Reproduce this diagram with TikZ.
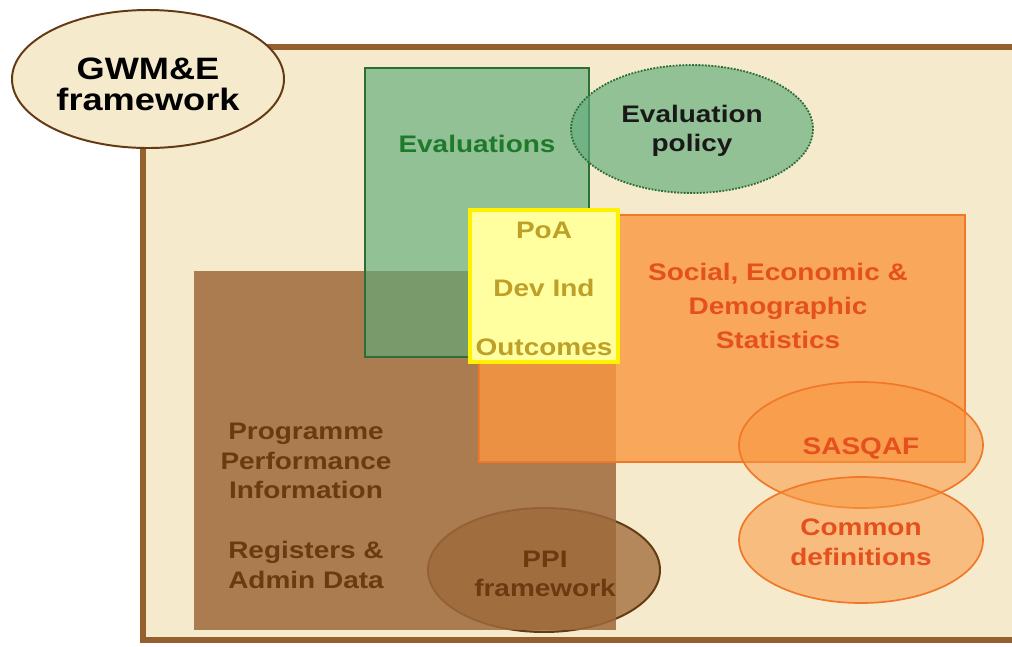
\documentclass[tikz,border=0pt]{standalone}
\usepackage{fontspec}
\setmainfont{Liberation Sans}[FakeStretch=1.17]
\usepackage{tikz}
\usetikzlibrary{calc}
\definecolor{mybeige}{RGB}{245, 234, 203}
\definecolor{myframe}{RGB}{148, 96, 46}
\definecolor{mygreen}{RGB}{95, 172, 123}
\definecolor{mydkgreen}{RGB}{45, 110, 55}
\definecolor{mytxgreen}{RGB}{30, 122, 42}
\definecolor{myorange}{RGB}{250, 151, 64}
\definecolor{myorline}{RGB}{240, 120, 40}
\definecolor{mytxorange}{RGB}{228, 80, 30}
\definecolor{mybrown}{RGB}{157, 105, 59}
\definecolor{myppi}{RGB}{181, 136, 91}
\definecolor{mydkbrown}{RGB}{100, 58, 20}
\definecolor{mytxbrown}{RGB}{107, 58, 16}
\definecolor{myyellow}{RGB}{255, 255, 160}
\definecolor{mytxgold}{RGB}{190, 160, 40}
\tikzset{lbl/.style = {font = \bfseries\fontsize{17}{21}\selectfont, align = center}}

\begin{document}
\begin{tikzpicture}[x = 0.025cm, y = -0.025cm]
\clip (0,0) rectangle (1012,646);
\draw[fill = mybeige, draw = myframe, line width = 4.2pt] (143,47) rectangle (1040,640);
\draw[fill = myppi, draw = mydkbrown, line width = 1.4pt] (544,570) ellipse [x radius = 116, y radius = 62];
\fill[mybrown, fill opacity = 0.85] (194,271) rectangle (616,630);
\draw[fill = mygreen, fill opacity = 0.65, draw = mydkgreen, line width = 0.8pt] (365,68) rectangle (589,357);
\draw[fill = mygreen, fill opacity = 0.65, draw = mydkgreen, densely dotted, line width = 1.3pt] (692,129) ellipse [x radius = 121, y radius = 64];
\draw[fill = myorange, fill opacity = 0.8, draw = myorline, line width = 1.2pt] (479,215) rectangle (965,462);
\draw[fill = myyellow, draw = yellow, line width = 2.6pt] (470,210) rectangle (618,362);
\draw[fill = myorange, fill opacity = 0.55, draw = myorline, line width = 1.2pt] (861,445) ellipse [x radius = 122, y radius = 63];
\draw[fill = myorange, fill opacity = 0.55, draw = myorline, line width = 1.2pt] (861,540) ellipse [x radius = 122, y radius = 63];
\draw[fill = mybeige, draw = mydkbrown, line width = 1.4pt] (148,79) ellipse [x radius = 136, y radius = 69];
% labels
\node[lbl, font = \bfseries\fontsize{22}{22}\selectfont] (gwme) at (148,84) {GWM\&E\\framework};
\node[lbl, text = mytxgreen] (evals) at (477,144) {Evaluations};
\node[lbl, text = black!90] (evalpol) at (692,131) {Evaluation\\policy};
\node[lbl, text = mytxgold] (poa) at (544,230) {PoA};
\node[lbl, text = mytxgold] (devind) at (544,288) {Dev Ind};
\node[lbl, text = mytxgold] (outcomes) at (544,347) {Outcomes};
\node[lbl, text = mytxorange, font = \bfseries\fontsize{17}{24}\selectfont] (ses) at (778,306) {Social, Economic \&\\Demographic\\Statistics};
\node[lbl, text = mytxbrown] (ppinfo) at (306,461) {Programme\\Performance\\Information};
\node[lbl, text = mytxbrown] (regs) at (306,565) {Registers \&\\Admin Data};
\node[lbl, text = mytxbrown] (ppi) at (545,574) {PPI\\framework};
\node[lbl, text = mytxorange] (sasqaf) at (861,448) {SASQAF};
\node[lbl, text = mytxorange] (commdef) at (861,542) {Common\\definitions};
\end{tikzpicture}
\end{document}
